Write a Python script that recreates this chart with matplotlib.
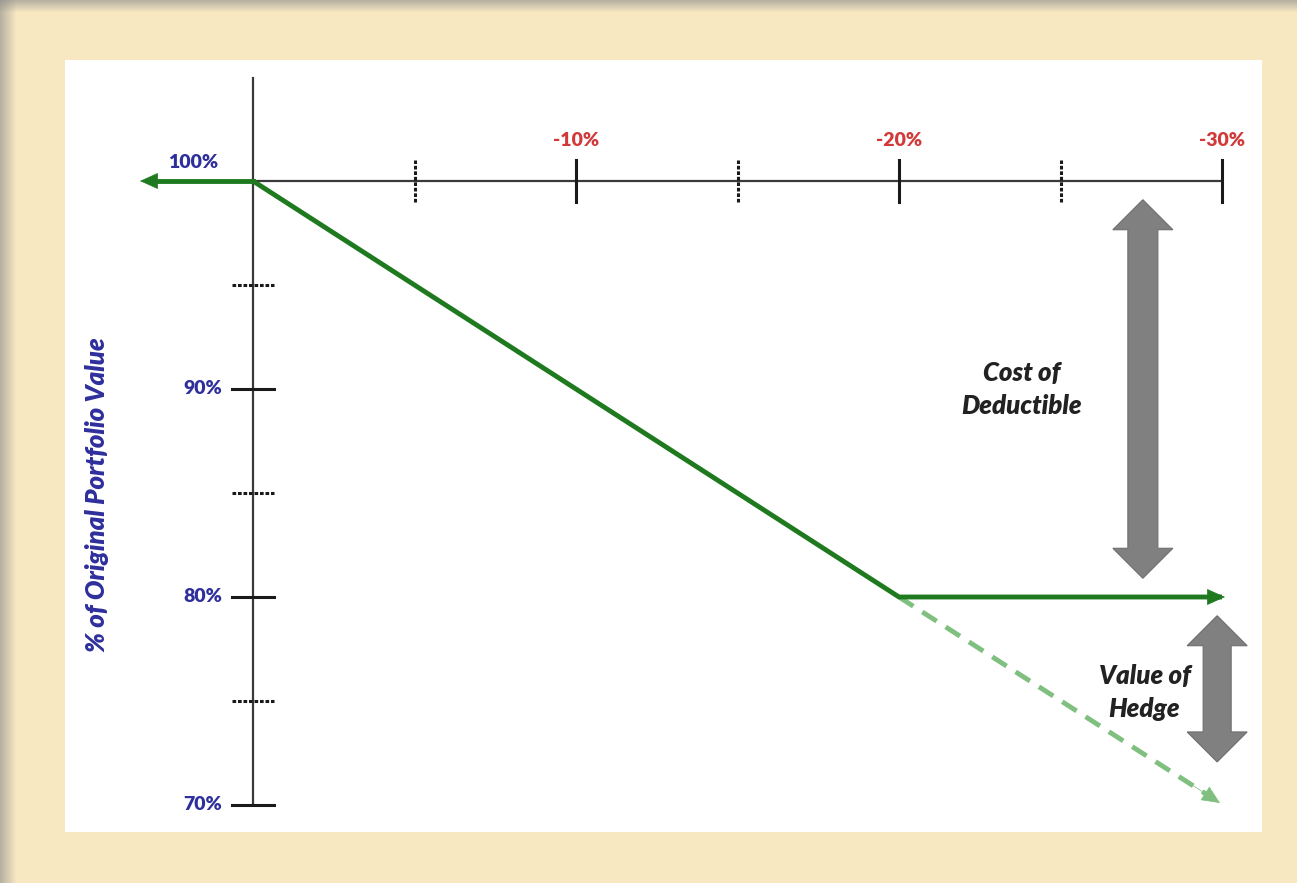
import matplotlib
matplotlib.use("Agg")
import matplotlib.pyplot as plt
from matplotlib.patches import Polygon, Rectangle

# Portfolio value (% of original) against market decline (%)
major_decline = [10, 20, 30]
minor_decline = [5, 15, 25]
decline_labels = ["-10%", "-20%", "-30%"]
value_major = [90, 80, 70]
value_minor = [95, 85, 75]
value_labels = ["90%", "80%", "70%"]

hedged_x = [0, 20, 30]
hedged_y = [100, 80, 80]
unhedged_x = [20, 30]
unhedged_y = [80, 70]

start_value = 100
floor_value = 80
bottom_value = 70

GREEN = "#1f7a1f"
LIGHT_GREEN = "#7fbf7f"
BLUE = "#2f2f9c"
RED = "#d23a3a"
GREY = "#808080"
AXIS = "#3a3a3a"
PARCHMENT = "#f8e8c2"

W, H = 1297, 883
fig = plt.figure(figsize=(W / 100, H / 100), dpi=100, facecolor=PARCHMENT)

# soft grey frame along the top and left edges
for i in range(12):
    a = 0.6 * (1 - i / 12)
    fig.patches.append(Rectangle((0, 1 - (i + 1) / H), 1, 1 / H,
                                 transform=fig.transFigure, color="#8c8c8c",
                                 alpha=a, lw=0, zorder=0))
for i in range(16):
    a = 0.6 * (1 - i / 16)
    fig.patches.append(Rectangle((i / W, 0), 1 / W, 1,
                                 transform=fig.transFigure, color="#8c8c8c",
                                 alpha=a, lw=0, zorder=0))

# white chart panel
px_l, px_r, px_t, px_b = 65, 1262, 60, 832
ax = fig.add_axes([px_l / W, 1 - px_b / H, (px_r - px_l) / W, (px_b - px_t) / H])
ax.set_facecolor("white")
for s in ax.spines.values():
    s.set_visible(False)
ax.set_xticks([])
ax.set_yticks([])

# scale: pixels per data unit
x0_px, x30_px = 253, 1222
y100_px, y70_px = 181, 805
sx = (x30_px - x0_px) / 30.0
sy = (y70_px - y100_px) / 30.0
ax.set_xlim(-(x0_px - px_l) / sx, 30 + (px_r - x30_px) / sx)
ax.set_ylim(70 - (px_b - y70_px) / sy, 100 + (y100_px - px_t) / sy)

font = "Lato"

# axes lines
ax.plot([0, 0], [bottom_value, 100 + (y100_px - 78) / sy], color=AXIS, lw=1.6, zorder=2)
ax.plot([0, 30], [start_value, start_value], color=AXIS, lw=1.6, zorder=2)

tick_half_y = 21 / sy
tick_half_x = 21 / sx
for d in major_decline:
    ax.plot([d, d], [start_value - tick_half_y, start_value + tick_half_y],
            color="#1a1a1a", lw=2.2, zorder=3)
for d in minor_decline:
    ax.plot([d, d], [start_value - tick_half_y, start_value + tick_half_y],
            color="#1a1a1a", lw=2.2, ls=(0, (1.2, 0.6)), zorder=3)
for v in value_major:
    ax.plot([-tick_half_x, tick_half_x], [v, v], color="#1a1a1a", lw=2.2, zorder=3)
for v in value_minor:
    ax.plot([-tick_half_x, tick_half_x], [v, v], color="#1a1a1a", lw=2.2,
            ls=(0, (1.2, 0.6)), zorder=3)

# tick labels
label_kw = dict(fontsize=14, fontweight="heavy", family=font, va="center")
for d, lab in zip(major_decline, decline_labels):
    ax.text(d, start_value + 40 / sy, lab, color=RED, ha="center", **label_kw)
for v, lab in zip(value_major, value_labels):
    ax.text(-31 / sx, v, lab, color=BLUE, ha="right", **label_kw)
ax.text(-60 / sx, start_value + 18 / sy, "100%", color=BLUE, ha="center", **label_kw)

ax.text(-(x0_px - 97) / sx, 84.9, "% of Original Portfolio Value", color=BLUE,
        fontsize=18.5, fontweight="heavy", style="italic", family=font,
        rotation=90, ha="center", va="center")


def arrow_head(tip, tail, color):
    ax.annotate("", xy=tip, xytext=tail,
                arrowprops=dict(arrowstyle="-|>,head_length=1.0,head_width=0.45",
                                mutation_scale=12, color=color, lw=0.5,
                                shrinkA=0, shrinkB=0), zorder=6)


# hedged payoff
ax.plot(hedged_x, hedged_y, color=GREEN, lw=3.5, solid_capstyle="butt",
        solid_joinstyle="round", zorder=5)
arrow_head((hedged_x[2] + 3 / sx, hedged_y[2]), (hedged_x[2] - 1, hedged_y[2]), GREEN)
left_tip = -(x0_px - 140) / sx
ax.plot([0, left_tip + 10 / sx], [start_value, start_value], color=GREEN, lw=3.5, zorder=5)
arrow_head((left_tip, start_value), (left_tip + 1, start_value), GREEN)

# unhedged payoff below the floor
tip = (unhedged_x[1] - 2 / sx, unhedged_y[1] + 2 / sy)
ax.plot([unhedged_x[0], tip[0] - 0.4], [unhedged_y[0], tip[1] + 0.4],
        color=LIGHT_GREEN, lw=3.5, ls=(0, (3.5, 2.2)), zorder=4)
arrow_head(tip, (tip[0] - 1, tip[1] + 1), LIGHT_GREEN)


def double_arrow(xc, y_lo, y_hi, shaft_px, head_w_px, head_len_px):
    hw = shaft_px / 2 / sx
    HW = head_w_px / 2 / sx
    hl = head_len_px / sy
    pts = [(xc, y_hi), (xc + HW, y_hi - hl), (xc + hw, y_hi - hl),
           (xc + hw, y_lo + hl), (xc + HW, y_lo + hl), (xc, y_lo),
           (xc - HW, y_lo + hl), (xc - hw, y_lo + hl), (xc - hw, y_hi - hl),
           (xc - HW, y_hi - hl)]
    ax.add_patch(Polygon(pts, closed=True, facecolor=GREY, edgecolor="#6e6e6e",
                         lw=0.8, zorder=4))


gap = 0.9
double_arrow(27.55, floor_value + gap, start_value - gap, 30, 60, 30)
double_arrow(29.85, bottom_value + 2.07, floor_value - gap, 28, 60, 30)

note_kw = dict(color="#222222", fontsize=18.5, fontweight="heavy", style="italic",
               family=font, ha="center", va="center", linespacing=1.45)
ax.text(23.8, 90, "Cost of\nDeductible", **note_kw)
ax.text(27.6, 75.4, "Value of\nHedge", **note_kw)

fig.savefig("out.png", dpi=100, facecolor=PARCHMENT)
